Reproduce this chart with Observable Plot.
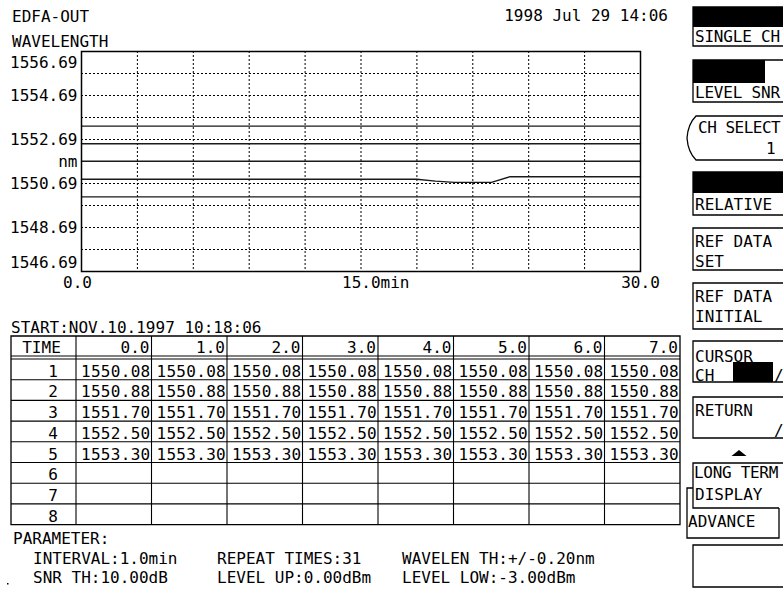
<!DOCTYPE html>
<html><head><meta charset="utf-8">
<script src="https://cdn.jsdelivr.net/npm/d3@7"></script>
<script src="https://cdn.jsdelivr.net/npm/@observablehq/plot@0.6"></script>
<style>
html,body{margin:0;padding:0;background:#fff;}
#page{position:relative;width:783px;height:589px;overflow:hidden;background:#fff;}
#chart{position:absolute;left:0;top:0;}
#overlay{position:absolute;left:0;top:0;pointer-events:none;}
#overlay text{font-family:"DejaVu Sans Mono",monospace;font-size:16px;fill:#000;}
</style></head>
<body><div id="page"><div id="chart"></div><svg id="overlay" width="783" height="589"></svg></div>
<script>
// ---------------- data ----------------
const minutes = [0,1,2,3,4,5,6,7,8,9,10,11,12,13,14,15,16,17,18,19,20,21,22,23,24,25,26,27,28,29,30];
const ch1 = [1550.08,1550.08,1550.08,1550.08,1550.08,1550.08,1550.08,1550.08,1550.08,1550.08,1550.08,1550.08,1550.08,1550.08,1550.08,1550.08,1550.08,1550.08,1550.08,1550.08,1550.08,1550.08,1550.08,1550.08,1550.08,1550.08,1550.08,1550.08,1550.08,1550.08,1550.08];
const ch2 = [1550.88,1550.88,1550.88,1550.88,1550.88,1550.88,1550.88,1550.88,1550.88,1550.88,1550.88,1550.88,1550.88,1550.88,1550.88,1550.88,1550.88,1550.88,1550.88,1550.80,1550.74,1550.74,1550.74,1551.00,1551.00,1551.00,1551.00,1551.00,1551.00,1551.00,1551.00];
const ch3 = [1551.70,1551.70,1551.70,1551.70,1551.70,1551.70,1551.70,1551.70,1551.70,1551.70,1551.70,1551.70,1551.70,1551.70,1551.70,1551.70,1551.70,1551.70,1551.70,1551.70,1551.70,1551.70,1551.70,1551.70,1551.70,1551.70,1551.70,1551.70,1551.70,1551.70,1551.70];
const ch4 = [1552.50,1552.50,1552.50,1552.50,1552.50,1552.50,1552.50,1552.50,1552.50,1552.50,1552.50,1552.50,1552.50,1552.50,1552.50,1552.50,1552.50,1552.50,1552.50,1552.50,1552.50,1552.50,1552.50,1552.50,1552.50,1552.50,1552.50,1552.50,1552.50,1552.50,1552.50];
const ch5 = [1553.30,1553.30,1553.30,1553.30,1553.30,1553.30,1553.30,1553.30,1553.30,1553.30,1553.30,1553.30,1553.30,1553.30,1553.30,1553.30,1553.30,1553.30,1553.30,1553.30,1553.30,1553.30,1553.30,1553.30,1553.30,1553.30,1553.30,1553.30,1553.30,1553.30,1553.30];
const channels = [1,2,3,4,5];
const channelSeries = [ch1, ch2, ch3, ch4, ch5];

const yDomain = [1546.69, 1556.69];
const yTickTop = [1556.69];
const yTickMid = [1554.69, 1552.69, 1550.69, 1548.69];
const yTickBottom = [1546.69];
const yUnitAt = [1551.69];
const yGrid = [1547.69,1548.69,1549.69,1550.69,1551.69,1552.69,1553.69,1554.69,1555.69];
const xDomain = [0, 30];
const xTickStart = [0];
const xTickMid = [15];
const xTickEnd = [30];
const xGrid = [3,6,9,12,15,18,21,24,27];

const tableTimes = ["0.0","1.0","2.0","3.0","4.0","5.0","6.0","7.0"];
const tableRows = [1,2,3,4,5,6,7,8];
const tableValues = [
  ["1550.08","1550.08","1550.08","1550.08","1550.08","1550.08","1550.08","1550.08"],
  ["1550.88","1550.88","1550.88","1550.88","1550.88","1550.88","1550.88","1550.88"],
  ["1551.70","1551.70","1551.70","1551.70","1551.70","1551.70","1551.70","1551.70"],
  ["1552.50","1552.50","1552.50","1552.50","1552.50","1552.50","1552.50","1552.50"],
  ["1553.30","1553.30","1553.30","1553.30","1553.30","1553.30","1553.30","1553.30"],
  [],[],[]
];

// ---------------- chart ----------------
const points = [];
channelSeries.forEach((vals, i) => vals.forEach((v, j) => points.push({ch: channels[i], t: minutes[j], wl: v})));

const font = "DejaVu Sans Mono";
const chart = Plot.plot({
  width: 660, height: 300,
  marginLeft: 81, marginRight: 20, marginTop: 51, marginBottom: 29,
  style: {fontFamily: font, fontSize: "16px", color: "#000", background: "transparent", overflow: "visible"},
  x: {domain: xDomain, label: null},
  y: {domain: yDomain, label: null},
  marks: [
    Plot.ruleX(xGrid, {stroke: "#000", strokeWidth: 1, strokeDasharray: "2,2"}),
    Plot.ruleY(yGrid, {stroke: "#000", strokeWidth: 1, strokeDasharray: "2,2"}),
    Plot.line(points, {x: "t", y: "wl", z: "ch", stroke: "#1a1a1a", strokeWidth: 1.4}),
    Plot.frame({stroke: "#000", strokeWidth: 1.5}),
    Plot.axisY(yTickTop, {tickSize: 0, tickPadding: 4, dy: 11, tickFormat: d => d.toFixed(2), fill: "#000", label: null}),
    Plot.axisY(yTickMid, {tickSize: 0, tickPadding: 4, tickFormat: d => d.toFixed(2), fill: "#000", label: null}),
    Plot.axisY(yTickBottom, {tickSize: 0, tickPadding: 4, dy: -9, tickFormat: d => d.toFixed(2), fill: "#000", label: null}),
    Plot.text(yUnitAt, {y: d => d, text: () => "nm", frameAnchor: "left", textAnchor: "end", dx: -4, fill: "#000"}),
    Plot.axisX(xTickStart, {tickSize: 0, tickPadding: 5, dx: -4, tickFormat: d => d.toFixed(1), fill: "#000", label: null}),
    Plot.axisX(xTickEnd, {tickSize: 0, tickPadding: 5, tickFormat: d => d.toFixed(1), fill: "#000", label: null}),
    Plot.axisX(xTickMid, {tickSize: 0, tickPadding: 5, textAnchor: "start", dx: -19, tickFormat: d => d.toFixed(1) + "min", fill: "#000", label: null})
  ]
});
document.getElementById("chart").appendChild(chart);

// ---------------- surrounding screen ----------------
const svg = d3.select("#overlay");
function txt(x, y, s, anchor, ls) {
  const t = svg.append("text").attr("x", x).attr("y", y).attr("text-anchor", anchor || "start").text(s);
  if (ls) t.attr("letter-spacing", ls);
  return t;
}
function line(d, w) {
  svg.append("path").attr("d", d).attr("fill", "none").attr("stroke", "#000").attr("stroke-width", w || 1.3);
}
function blk(x, y, w, h) {
  svg.append("rect").attr("x", x).attr("y", y).attr("width", w).attr("height", h).attr("fill", "#000");
}

txt(12, 22, "EDFA-OUT");
txt(12, 47, "WAVELENGTH");
txt(668, 21, "1998 Jul 29 14:06", "end");

// table
const tLeft = 11, tTop = 336, timeW = 65, colW = 75.5, headBottom = 356, rowTop = 359, rowH = 20.7;
const colX = [tLeft, tLeft + timeW];
tableTimes.forEach((_, i) => colX.push(tLeft + timeW + colW * (i + 1)));
const tRight = colX[colX.length - 1];
const tBottom = rowTop + rowH * tableRows.length;

txt(tLeft, 333, "START:NOV.10.1997 10:18:06");
line(`M${tLeft},${tTop}H${tRight}V${tBottom}H${tLeft}Z`);
line(`M${tLeft},${headBottom}H${tRight}M${tLeft},${rowTop}H${tRight}`, 1);
tableRows.forEach((_, i) => { if (i > 0) line(`M${tLeft},${rowTop + rowH * i}H${tRight}`, 1.1); });
colX.slice(1, -1).forEach(x => line(`M${x},${tTop}V${tBottom}`, 1.1));
txt(tLeft + timeW / 2 - 2, headBottom - 3, "TIME", "middle");
tableTimes.forEach((s, i) => txt(colX[i + 2] - 2, headBottom - 3, s, "end"));
tableRows.forEach((r, i) => {
  const yb = rowTop + rowH * (i + 1) - 3;
  txt(tLeft + timeW - 18, yb, String(r), "end");
  (tableValues[i] || []).forEach((v, j) => txt(colX[j + 2] - 1, yb, v, "end", 0.3));
});

// parameters
txt(13, 544, "PARAMETER:");
txt(33, 564, "INTERVAL:1.0min");
txt(33, 583, "SNR TH:10.00dB");
txt(217, 564, "REPEAT TIMES:31");
txt(217, 583, "LEVEL UP:0.00dBm");
txt(402, 564, "WAVELEN TH:+/-0.20nm");
txt(402, 583, "LEVEL LOW:-3.00dBm");
blk(7, 583, 1.5, 1.5);

// soft keys
const kx = 693, kr = 820;
line(`M${kr},7H${kx}V46H${kr}`); blk(kx, 7, kr - kx, 20); txt(695, 42, "SINGLE CH", "start", -0.2);
line(`M${kr},60H${kx}V102H${kr}`); blk(kx, 60, 72, 23); txt(695, 98, "LEVEL SNR", "start", -0.2);
line(`M${kr},116H696Q688,124 687,138Q688,152 696,160H${kr}`); txt(698, 133, "CH SELECT", "start", -0.5); txt(766, 154, "1");
line(`M${kr},172H${kx}V215H${kr}`); blk(kx, 172, kr - kx, 21); txt(695, 210, "RELATIVE");
line(`M${kr},228H${kx}V270H${kr}`); txt(695, 247, "REF DATA"); txt(695, 267, "SET");
line(`M${kr},283H${kx}V329H${kr}`); txt(695, 302, "REF DATA"); txt(695, 322, "INITIAL");
line(`M${kr},341H${kx}V382H${kr}`); txt(695, 362, "CURSOR"); txt(695, 381, "CH"); blk(733, 362, 40, 20); txt(774, 381, "/");
line(`M${kr},397H${kx}V438H${kr}`); txt(695, 416, "RETURN"); txt(774, 436, "/");
svg.append("path").attr("d", "M731.5,456L739,450L746.5,456Z").attr("fill", "#000");
line(`M${kr},463H${kx}V508H779`); txt(694, 478, "LONG TERM", "start", -0.3); txt(695, 500, "DISPLAY");
line(`M${kx},488H687V538H779V508`); txt(688, 527, "ADVANCE");
line(`M${kr},545H${kx}V587H${kr}`);
</script>
</body></html>
